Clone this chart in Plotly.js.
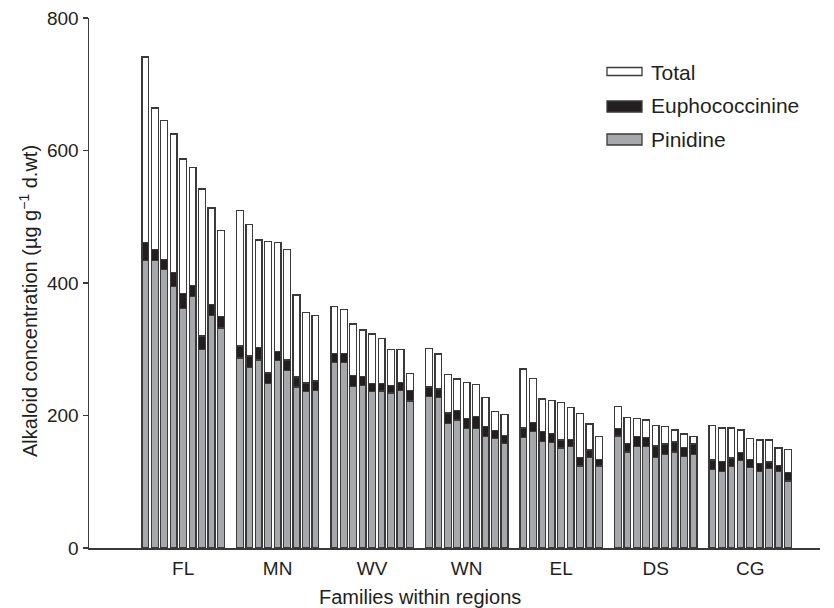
<!DOCTYPE html>
<html>
<head>
<meta charset="utf-8">
<script src="https://cdn.plot.ly/plotly-3.0.1.min.js"></script>
<style>html,body{margin:0;padding:0;background:#fff;}#chart{width:834px;height:608px;}</style>
</head>
<body>
<div id="chart"></div>
<script>
// Regions (families within each region, 9 per region)
const regions = ['FL', 'MN', 'WV', 'WN', 'EL', 'DS', 'CG'];
const familiesPerRegion = 9;

// Pinidine (µg g-1 d.wt)
const pinidine = [
  434, 434, 420, 395, 362, 380, 300, 351, 332,   // FL
  287, 272, 284, 248, 283, 268, 243, 236, 238,   // MN
  280, 280, 244, 245, 236, 237, 234, 238, 222,   // WV
  229, 227, 188, 193, 180, 180, 168, 165, 158,   // WN
  167, 176, 161, 159, 151, 153, 124, 137, 124,   // EL
  169, 145, 153, 153, 137, 141, 145, 138, 141,   // DS
  119, 116, 123, 132, 121, 115, 120, 115, 101    // CG
];

// Euphococcinine (µg g-1 d.wt)
const euphococcinine = [
  27, 17, 16, 21, 22, 16, 20, 17, 17,
  18, 18, 19, 16, 14, 16, 15, 13, 14,
  14, 14, 16, 14, 12, 11, 11, 12, 16,
  14, 13, 16, 15, 15, 18, 15, 12, 12,
  14, 13, 15, 14, 12, 11, 13, 11, 10,
  11, 13, 15, 14, 17, 16, 15, 14, 16,
  14, 15, 13, 12, 13, 13, 10, 10, 13
];

// Total alkaloid (µg g-1 d.wt)
const total = [
  741, 664, 645, 625, 587, 574, 542, 513, 479,
  509, 488, 465, 463, 461, 451, 382, 356, 351,
  365, 360, 338, 329, 323, 316, 300, 300, 263,
  301, 293, 262, 255, 250, 247, 227, 206, 201,
  270, 256, 225, 223, 220, 212, 203, 187, 168,
  214, 197, 195, 193, 185, 183, 178, 172, 168,
  185, 181, 181, 178, 165, 163, 163, 151, 149
];

const seriesNames = ['Total', 'Euphococcinine', 'Pinidine'];
const yTicks = [0, 200, 400, 600, 800];
const xTitle = 'Families within regions';
const yTitle = 'Alkaloid concentration (µg g<sup>−1</sup> d.wt)';

// positions: 9 bars per region plus one empty slot between regions
const xs = pinidine.map((_, k) => Math.floor(k / familiesPerRegion) * (familiesPerRegion + 1) + (k % familiesPerRegion));
const tickPos = regions.map((_, g) => g * (familiesPerRegion + 1) + (familiesPerRegion - 1) / 2);
const rest = total.map((t, k) => t - pinidine[k] - euphococcinine[k]);

const GRAY = '#a6a8ab', BLACK = '#231f20', WHITE = '#ffffff', EDGE = '#3a3a3a';
const FONT = 'Liberation Sans, Arial, Helvetica, sans-serif';
const BW = 0.72;
const line = {color: EDGE, width: 1.3};

const traces = [
  {type: 'bar', x: xs, y: pinidine, name: seriesNames[2], width: BW, marker: {color: GRAY, line: line}, hoverinfo: 'y'},
  {type: 'bar', x: xs, y: euphococcinine, name: seriesNames[1], width: BW, marker: {color: BLACK, line: line}, hoverinfo: 'y'},
  {type: 'bar', x: xs, y: rest, name: seriesNames[0], width: BW, marker: {color: WHITE, line: line}, hoverinfo: 'y'}
];

// plot area in pixels: x 89..820, y 18..548
const L = 89, R = 14, T = 18, B = 60, W = 834, H = 608;
const pw = W - L - R, ph = H - T - B;
const px = v => (v - L) / pw;
const py = v => (H - B - v) / ph;

// manual legend (wide rectangles as in the reference)
const legRows = [
  {name: seriesNames[0], color: WHITE, top: 67.5, bot: 75.5, ty: 73},
  {name: seriesNames[1], color: BLACK, top: 101, bot: 112, ty: 106},
  {name: seriesNames[2], color: GRAY, top: 134, bot: 145, ty: 139.5}
];
const shapes = legRows.map(r => ({type: 'rect', xref: 'paper', yref: 'paper', x0: px(607), x1: px(642), y0: py(r.bot), y1: py(r.top),
  fillcolor: r.color, line: {color: EDGE, width: 1.3}}));
const annotations = legRows.map(r => ({xref: 'paper', yref: 'paper', x: px(649), y: py(r.ty), xanchor: 'left', yanchor: 'middle',
  text: r.name, showarrow: false, font: {family: FONT, size: 21, color: BLACK}}));

// axis titles placed as in the reference
annotations.push({xref: 'paper', yref: 'paper', x: px(420), y: py(597), xanchor: 'center', yanchor: 'middle',
  text: xTitle, showarrow: false, font: {family: FONT, size: 20, color: BLACK}});
annotations.push({xref: 'paper', yref: 'paper', x: px(28), y: py(301), xanchor: 'center', yanchor: 'middle', textangle: -90,
  text: yTitle, showarrow: false, font: {family: FONT, size: 20, color: BLACK}});

const layout = {
  width: W, height: H,
  margin: {l: L, r: R, t: T, b: B},
  paper_bgcolor: '#fff', plot_bgcolor: '#fff',
  barmode: 'stack',
  showlegend: false,
  font: {family: FONT, size: 19, color: BLACK},
  xaxis: {
    range: [-5.96, 71.39], tickvals: tickPos, ticktext: regions, ticks: '',
    showline: true, linecolor: EDGE, linewidth: 1.5, showgrid: false, zeroline: false,
    tickfont: {size: 19}, ticklabelstandoff: 3, fixedrange: true
  },
  yaxis: {
    range: [0, 800], tickvals: yTicks, ticks: 'outside', ticklen: 5, tickcolor: EDGE, tickwidth: 1.3,
    showline: true, linecolor: EDGE, linewidth: 1.5, showgrid: false, zeroline: false,
    tickfont: {size: 19}, fixedrange: true
  },
  shapes: shapes,
  annotations: annotations
};

Plotly.newPlot('chart', traces, layout, {displayModeBar: false, staticPlot: true});
</script>
</body>
</html>
